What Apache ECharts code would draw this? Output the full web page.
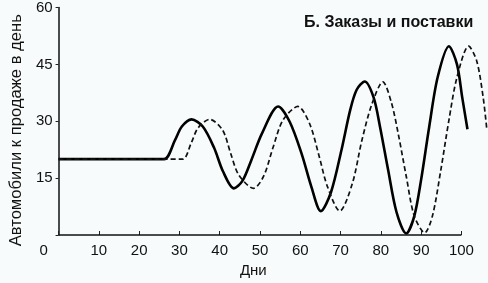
<!DOCTYPE html>
<html><head><meta charset="utf-8">
<script src="https://cdn.jsdelivr.net/npm/echarts@6/dist/echarts.min.js"></script>
<style>html,body{margin:0;padding:0;background:#f8fbfb}#c{width:488px;height:283px}</style>
</head><body><div id="c"></div>
<script>
const titleText = 'Б. Заказы и поставки';
const xName = 'Дни';
const yName = 'Автомобили к продаже в день';
const xTicks = [0,10,20,30,40,50,60,70,80,90,100];
const yTicks = [15,30,45,60];
// Orders (solid line): [day, cars per day]
const orders = [[0,20],[20,20],[26.2,20],[28.9,25],[30.6,28.6],[33,30.5],[35.8,28.6],[38.6,23],[40.8,16.8],[43.5,12.3],[45.6,14.2],[47.8,19.6],[50.5,26.8],[54.5,33.9],[57.4,29.8],[60.4,21.2],[62.7,12.9],[65.1,6.3],[67.6,11.2],[70.2,22.3],[72.4,33],[74,38.3],[76,40.5],[78.2,36.3],[79.8,28.5],[81.8,17.2],[83.9,6],[86.3,0.4],[88.3,5],[90,14.6],[92,28.5],[94.1,41.6],[96.9,49.8],[98.9,45],[100.2,36.3],[101.5,27.9]];
// Deliveries (dashed line)
const deliveries = [[0,20],[25,20],[30.8,20],[32.9,24.2],[34.6,28.2],[37.5,30.5],[40.7,27.7],[42.7,21.6],[44.7,15.9],[48.4,12.3],[50.9,15.5],[53.3,23.3],[55.7,30.3],[59.4,33.9],[62.3,29.4],[64.7,20.7],[66.7,12.9],[69.8,6.3],[72.9,13.5],[75.3,25],[77.8,34.6],[80.5,40.4],[82.6,35],[84.3,26.8],[86.3,15.5],[88.3,5],[90.9,0.6],[92.8,5],[94.9,17.2],[96.9,30.3],[98.9,41.6],[101.8,49.8],[103.8,45.9],[105.4,36.3],[106.3,27.9]];

const chart = echarts.init(document.getElementById('c'));
chart.setOption({
  backgroundColor: '#f8fbfb',
  animation: false,
  title: {text: titleText, left: 299, top: 10,
    textStyle: {fontFamily: 'Liberation Sans', fontWeight: 'bold', fontSize: 16, color: '#111'}},
  grid: {left: 52, right: 0, top: 6, bottom: 47},
  xAxis: {type: 'value', min: 0, max: 106.6, interval: 10,
    name: xName, nameLocation: 'middle', nameGap: 28,
    nameTextStyle: {fontFamily: 'Liberation Sans', fontSize: 15, color: '#111', padding: [0, 40, 0, 0]},
    axisLine: {show: false},
    axisTick: {show: true, inside: true, length: 4, lineStyle: {color: '#222', width: 1}},
    splitLine: {show: false},
    axisLabel: {margin: 8, showMaxLabel: false, fontFamily: 'Liberation Sans', fontSize: 15, color: '#111',
      formatter: v => xTicks.includes(v) ? (v === 0 ? '{z|0}' : String(v)) : '',
      rich: {z: {fontFamily: 'Liberation Sans', fontSize: 15, color: '#111', padding: [0, 30, 0, 0]}}}
  },
  yAxis: {type: 'value', min: 0, max: 60, interval: 15,
    name: yName, nameLocation: 'middle', nameGap: 33, nameRotate: 90,
    nameTextStyle: {fontFamily: 'Liberation Sans', fontSize: 16.6, color: '#111', padding: [0, 18, 0, 0]},
    axisLine: {show: true, lineStyle: {color: '#111', width: 1.5}},
    axisTick: {show: true, length: 3, lineStyle: {color: '#222'}},
    splitLine: {show: false},
    axisLabel: {margin: 6, fontFamily: 'Liberation Sans', fontSize: 15, color: '#111',
      formatter: v => yTicks.includes(v) ? String(v) : ''}
  },
  series: [
    {type: 'line', data: orders, smooth: 0.3, showSymbol: false,
      lineStyle: {color: '#000', width: 2.6},
      markLine: {silent: true, symbol: 'none', label: {show: false},
        lineStyle: {color: '#111', width: 1.5, type: 'solid'},
        data: [[{coord: [0, 0]}, {coord: [100, 0]}]]}},
    {type: 'line', data: deliveries, smooth: 0.3, showSymbol: false,
      lineStyle: {color: '#111', width: 1.7, type: [5, 3]}}
  ]
});
</script></body></html>
